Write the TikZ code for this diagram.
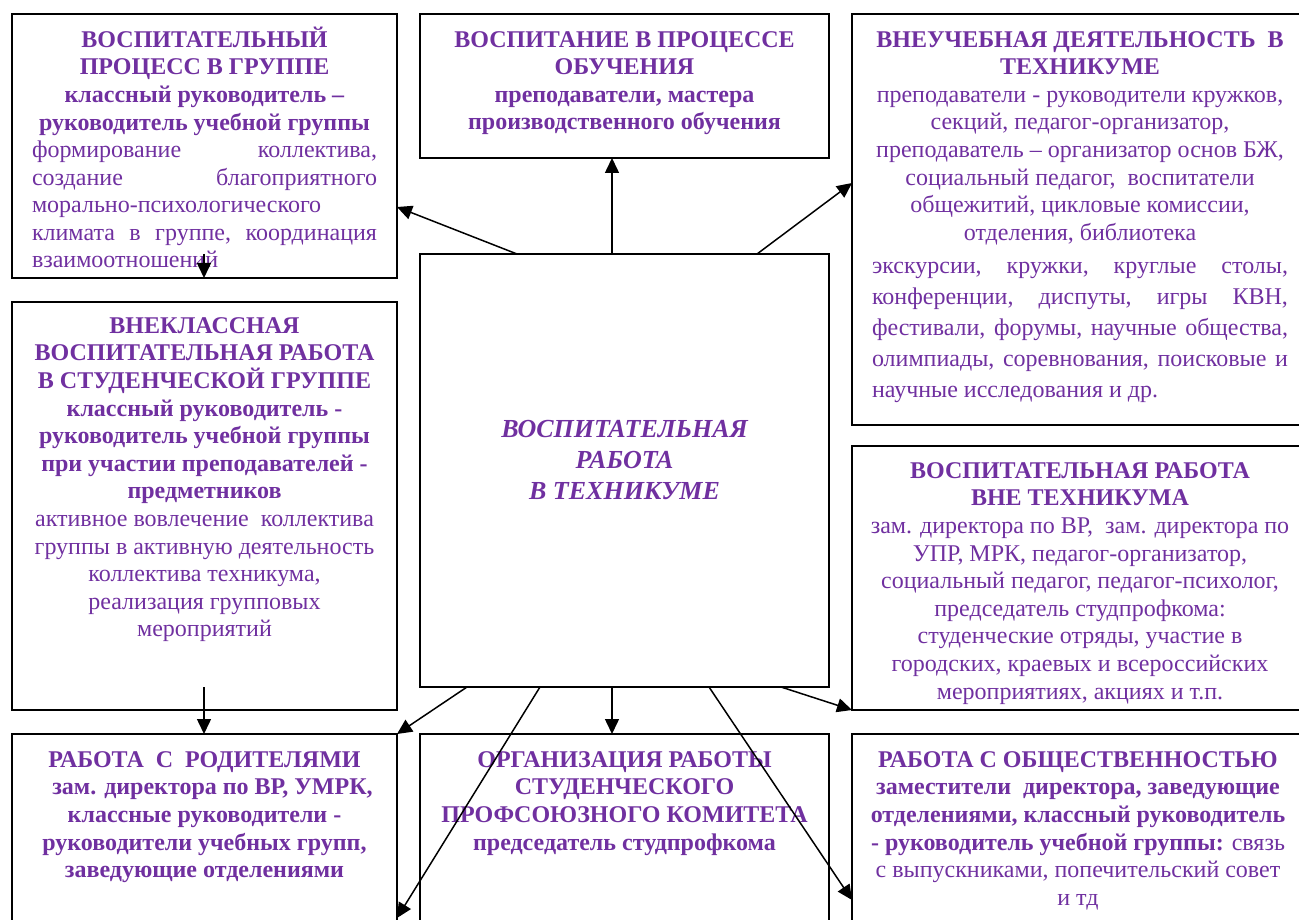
\documentclass[tikz,border=0pt]{standalone}
\usepackage{fontspec}
\setmainfont{Liberation Serif}
\usetikzlibrary{arrows.meta,calc}
\definecolor{vio}{HTML}{7030A0}
\newcommand\fst{\rule{0pt}{22pt}}
\newcommand\bl[1]{\textbf{#1}}
\begin{document}
\begin{tikzpicture}[x=1pt,y=-1pt,
  box/.style={draw, line width=1.6pt, inner sep=0pt, outer sep=0pt, anchor=north west},
  txt/.style={text=vio, inner sep=0pt, anchor=north, align=center, font=\fontsize{24}{27.6}\selectfont},
  arr/.style={-{Triangle[length=15pt,width=14pt]}, line width=1.5pt}]
\useasboundingbox (0,0) rectangle (1299,920);
\clip (0,0) rectangle (1299,920);
% boxes
\node[box, minimum width=385pt, minimum height=264pt] (A) at (12,14) {};
\node[box, minimum width=409pt, minimum height=144pt] (B) at (420,14) {};
\node[box, minimum width=456pt, minimum height=411pt] (C) at (852,14) {};
\node[box, minimum width=385pt, minimum height=408pt] (D) at (12,302) {};
\node[box, minimum width=409pt, minimum height=433pt] (E) at (420,254) {};
\node[box, minimum width=456pt, minimum height=264pt] (F) at (852,446) {};
\node[box, minimum width=385pt, minimum height=206pt] (G) at (12,734) {};
\node[box, minimum width=409pt, minimum height=206pt] (H) at (420,734) {};
\node[box, minimum width=456pt, minimum height=206pt] (I) at (852,734) {};
% texts
\node[txt] (tA) at (204.5,25) {\fst\bl{ВОСПИТАТЕЛЬНЫЙ}\\\bl{ПРОЦЕСС В ГРУППЕ}\\\bl{классный руководитель –}\\\bl{руководитель учебной группы}\\
 \hbox to 345pt{формирование\hfill коллектива,}\\
 \hbox to 345pt{создание\hfill благоприятного}\\
 \hbox to 345pt{морально-психологического\hfill}\\
 \hbox to 345pt{климата\hfill в\hfill группе,\hfill координация}\\
 \hbox to 345pt{взаимоотношений\hfill}};
\node[txt] (tB) at (624.5,25) {\fst\bl{ВОСПИТАНИЕ В ПРОЦЕССЕ}\\\bl{ОБУЧЕНИЯ}\\\bl{преподаватели, мастера}\\\bl{производственного обучения}};
\node[txt] (tC) at (1080,25) {\fst\bl{ВНЕУЧЕБНАЯ ДЕЯТЕЛЬНОСТЬ\ \ В}\\\bl{ТЕХНИКУМЕ}\\
 преподаватели - руководители кружков,\\секций, педагог-организатор,\\преподаватель – организатор основ БЖ,\\социальный педагог,\ \ воспитатели\\общежитий, цикловые комиссии,\\отделения, библиотека};
\node[txt, font=\fontsize{24}{31}\selectfont] (tC2) at (1080,251) {\fst\hbox to 416pt{экскурсии,\hfill кружки,\hfill круглые\hfill столы,}\\
 \hbox to 416pt{конференции,\hfill диспуты,\hfill игры\hfill КВН,}\\
 \hbox to 416pt{фестивали,\hfill форумы,\hfill научные\hfill общества,}\\
 \hbox to 416pt{олимпиады,\hfill соревнования,\hfill поисковые\hfill и}\\
 \hbox to 416pt{научные исследования и др.\hfill}};
\node[txt] (tD) at (204.5,311) {\fst\bl{ВНЕКЛАССНАЯ}\\\bl{ВОСПИТАТЕЛЬНАЯ РАБОТА}\\\bl{В СТУДЕНЧЕСКОЙ ГРУППЕ}\\\bl{классный руководитель -}\\\bl{руководитель учебной группы}\\\bl{при участии преподавателей -}\\\bl{предметников}\\
 активное вовлечение\ \ коллектива\\группы в активную деятельность\\коллектива техникума,\\реализация групповых\\мероприятий};
\node[txt, font=\fontsize{26}{31}\selectfont\bfseries\itshape] (tE) at (624.5,415) {\fst\textbf{\textit{ВОСПИТАТЕЛЬНАЯ}}\\\textbf{\textit{РАБОТА}}\\\textbf{\textit{В ТЕХНИКУМЕ}}};
\node[txt] (tF) at (1080,456) {\fst\bl{ВОСПИТАТЕЛЬНАЯ РАБОТА}\\\bl{ВНЕ ТЕХНИКУМА}\\
 зам. директора по ВР,\ \ зам. директора по\\УПР, МРК, педагог-организатор,\\социальный педагог, педагог-психолог,\\председатель студпрофкома:\\студенческие отряды, участие в\\городских, краевых и всероссийских\\мероприятиях, акциях и т.п.};
\node[txt] (tG) at (204.5,745) {\fst\bl{РАБОТА\ \ С\ \ РОДИТЕЛЯМИ}\\\hspace*{16pt}\bl{зам. директора по ВР, УМРК,}\\\bl{классные руководители -}\\\bl{руководители учебных групп,}\\\bl{заведующие отделениями}};
\node[txt] (tH) at (624.5,745) {\fst\bl{ОРГАНИЗАЦИЯ РАБОТЫ}\\\bl{СТУДЕНЧЕСКОГО}\\\bl{ПРОФСОЮЗНОГО КОМИТЕТА}\\\bl{председатель студпрофкома}};
\node[txt] (tI) at (1078,745) {\fst\bl{РАБОТА С ОБЩЕСТВЕННОСТЬЮ}\\\bl{заместители\ \ директора, заведующие}\\\bl{отделениями, классный руководитель}\\\bl{- руководитель учебной группы:} связь\\с выпускниками, попечительский совет\\и тд};
% free ends
\coordinate (a4) at ($(A.south west)+(192,-24)$);
\coordinate (d5) at ($(D.south west)+(192,-23)$);
% connectors
\draw[arr] ($(E.north west)+(97,0)$) -- ($(A.north east)+(0,193)$);
\draw[arr] ($(E.north west)+(192,0)$) -- ($(B.south west)+(192,0)$);
\draw[arr] ($(E.north west)+(337,0)$) -- ($(C.north west)+(0,169)$);
\draw[arr] (a4) -- ($(A.south west)+(192,0)$);
\draw[arr] (d5) -- ($(G.north west)+(192,0)$);
\draw[arr] ($(E.south west)+(47,0)$) -- (G.north east);
\draw[arr] ($(E.south west)+(120,0)$) -- ($(G.north east)+(0,184)$);
\draw[arr] ($(E.south west)+(192,0)$) -- ($(H.north west)+(192,0)$);
\draw[arr] ($(E.south west)+(289,0)$) -- ($(I.north west)+(0,166)$);
\draw[arr] ($(E.south west)+(361,0)$) -- (F.south west);
\end{tikzpicture}
\end{document}
